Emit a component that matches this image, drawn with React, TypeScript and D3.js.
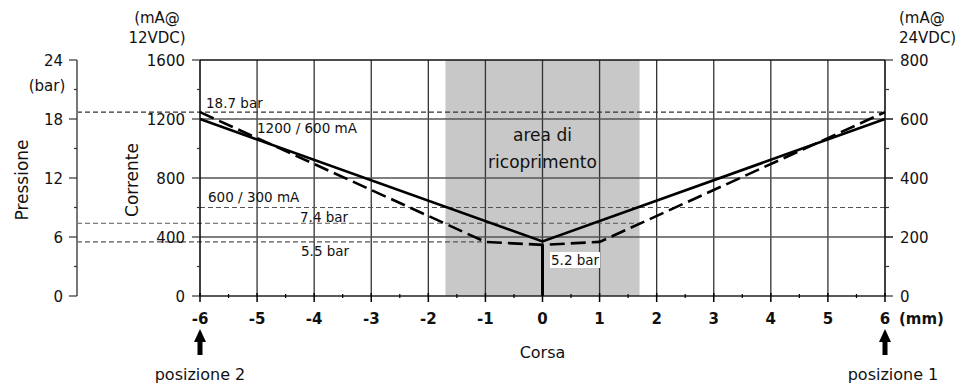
import React from "react";
import * as d3 from "d3";

// ---- data ----
const strokeTicks = [-6, -5, -4, -3, -2, -1, 0, 1, 2, 3, 4, 5, 6];
const currentX = [-6, 0, 6];
const currentMA = [1200, 370, 1200];
const pressureX = [-6, -1, 0, 1, 6];
const pressureBar = [18.7, 5.5, 5.2, 5.5, 18.7];
const pressureTicks = [0, 6, 12, 18, 24];
const current12Ticks = [0, 400, 800, 1200, 1600];
const current24Ticks = [0, 200, 400, 600, 800];
const overlapArea = [-1.7, 1.7];
const refMaxBar = 18.7;
const refMidBar = 7.4;
const refMinBar = 5.5;
const refCurrentMA = 600;
const minBar = 5.2;

const W = 961, H = 385;
const FONT = "'DejaVu Sans', Verdana, sans-serif";

export default function App() {
  const x = d3.scaleLinear().domain([-6, 6]).range([200, 885]);
  const yI = d3.scaleLinear().domain([0, 1600]).range([296, 60]);
  const yP = d3.scaleLinear().domain([0, 24]).range([296, 60]);
  const yR = d3.scaleLinear().domain([0, 800]).range([296, 60]);

  const line = d3.line<[number, number]>().x(d => d[0]).y(d => d[1]);
  const curPath = line(currentX.map((v, i) => [x(v), yI(currentMA[i])]))!;
  const presPath = line(pressureX.map((v, i) => [x(v), yP(pressureBar[i])]))!;

  // where pressure line crosses 7.4 bar on the right side
  const xMid = pressureX[3] + (refMidBar - pressureBar[3]) / (pressureBar[4] - pressureBar[3]) * (pressureX[4] - pressureX[3]);

  const halfTicks = d3.range(-5.5, 6, 1);
  const presMinor = d3.range(3, 24, 6);
  const curMinor = d3.range(200, 1600, 400);
  const rMinor = d3.range(100, 800, 200);

  const arrow = (cx: number, key: string) => (
    <g key={key}>
      <path d={`M${cx - 6},${342} L${cx},${329} L${cx + 6},${342} Z`} fill="#000" />
      <rect x={cx - 2.5} y={340} width={5} height={15} fill="#000" />
    </g>
  );

  return (
    <svg width={W} height={H} style={{ position: "absolute", left: 0, top: 0, background: "#fff" }} fontFamily={FONT}>
      {/* overlap area */}
      <rect x={x(overlapArea[0])} y={yI(1600)} width={x(overlapArea[1]) - x(overlapArea[0])} height={yI(0) - yI(1600)} fill="#c8c8c8" />
      <text x={x(0)} y={141} textAnchor="middle" fontSize={17} fill="#111">area di</text>
      <text x={x(0)} y={168} textAnchor="middle" fontSize={17} fill="#111">ricoprimento</text>

      {/* vertical grid */}
      {strokeTicks.slice(1, -1).map(t => (
        <line key={"vg" + t} x1={x(t)} x2={x(t)} y1={yI(1600)} y2={yI(0)} stroke="#333" strokeWidth={1.3} />
      ))}
      {/* horizontal grid */}
      {current12Ticks.slice(1, -1).map(t => (
        <line key={"hg" + t} x1={x(-6)} x2={x(6) + 8} y1={yI(t)} y2={yI(t)} stroke="#555" strokeWidth={1.5} />
      ))}
      <line x1={x(-6)} x2={x(6)} y1={yI(1600)} y2={yI(1600)} stroke="#111" strokeWidth={1.5} />

      {/* reference dashed lines */}
      <line x1={77} x2={x(6)} y1={yP(refMaxBar)} y2={yP(refMaxBar)} stroke="#333" strokeWidth={1.2} strokeDasharray="5,3" />
      <line x1={x(-6)} x2={x(6)} y1={yI(refCurrentMA)} y2={yI(refCurrentMA)} stroke="#555" strokeWidth={1.2} strokeDasharray="5,3" />
      <line x1={77} x2={x(xMid)} y1={yP(refMidBar)} y2={yP(refMidBar)} stroke="#555" strokeWidth={1.2} strokeDasharray="5,3" />
      <line x1={77} x2={x(pressureX[1])} y1={yP(refMinBar)} y2={yP(refMinBar)} stroke="#555" strokeWidth={1.2} strokeDasharray="5,3" />

      {/* annotations */}
      <text x={206} y={108} fontSize={13.5} fill="#111">18.7 bar</text>
      <text x={257} y={133} fontSize={13.5} fill="#111">1200 / 600 mA</text>
      <text x={208} y={202} fontSize={13.5} fill="#111">600 / 300 mA</text>
      <text x={300} y={222} fontSize={13.5} fill="#111">7.4 bar</text>
      <text x={301} y={256} fontSize={13.5} fill="#111">5.5 bar</text>

      {/* series */}
      <path d={curPath} fill="none" stroke="#000" strokeWidth={2.6} />
      <path d={presPath} fill="none" stroke="#000" strokeWidth={2.6} strokeDasharray="15,6" />
      <line x1={x(0)} x2={x(0)} y1={yP(minBar)} y2={yI(0)} stroke="#000" strokeWidth={3} />
      <rect x={550} y={252} width={50} height={16} fill="#fff" />
      <text x={551} y={265} fontSize={13.5} fill="#111">5.2 bar</text>

      {/* pressure axis */}
      <line x1={77} x2={77} y1={yP(24)} y2={yP(0)} stroke="#777" strokeWidth={2} />
      {pressureTicks.map(t => (
        <g key={"pt" + t}>
          <line x1={69} x2={77} y1={yP(t)} y2={yP(t)} stroke="#333" strokeWidth={1.2} />
          <text x={63} y={yP(t) + 5.5} textAnchor="end" fontSize={15} fill="#111">{t}</text>
        </g>
      ))}
      {presMinor.map(t => (
        <line key={"pm" + t} x1={74} x2={77} y1={yP(t)} y2={yP(t)} stroke="#333" strokeWidth={1.2} />
      ))}
      <text x={47} y={91} textAnchor="middle" fontSize={15} fill="#111">(bar)</text>
      <text transform={`translate(28,180) rotate(-90)`} textAnchor="middle" fontSize={17} fill="#111">Pressione</text>

      {/* current 12V axis */}
      <line x1={x(-6)} x2={x(-6)} y1={yI(1600)} y2={yI(0)} stroke="#000" strokeWidth={1.5} />
      {current12Ticks.map(t => (
        <g key={"ct" + t}>
          <line x1={x(-6) - 8} x2={x(-6)} y1={yI(t)} y2={yI(t)} stroke="#333" strokeWidth={1.2} />
          <text x={185} y={yI(t) + 5.5} textAnchor="end" fontSize={15} fill="#111">{t}</text>
        </g>
      ))}
      {curMinor.map(t => (
        <line key={"cm" + t} x1={x(-6) - 3} x2={x(-6)} y1={yI(t)} y2={yI(t)} stroke="#333" strokeWidth={1.2} />
      ))}
      <text x={157} y={23} textAnchor="middle" fontSize={15} fill="#111">(mA@</text>
      <text x={157} y={43} textAnchor="middle" fontSize={15} fill="#111">12VDC)</text>
      <text transform={`translate(138,180) rotate(-90)`} textAnchor="middle" fontSize={17} fill="#111">Corrente</text>

      {/* current 24V axis */}
      <line x1={x(6)} x2={x(6)} y1={yR(800)} y2={yR(0)} stroke="#000" strokeWidth={1.5} />
      {current24Ticks.map(t => (
        <g key={"rt" + t}>
          <line x1={x(6)} x2={x(6) + 8} y1={yR(t)} y2={yR(t)} stroke="#333" strokeWidth={1.2} />
          <text x={900} y={yR(t) + 5.5} fontSize={15} fill="#111">{t}</text>
        </g>
      ))}
      {rMinor.map(t => (
        <line key={"rm" + t} x1={x(6)} x2={x(6) + 4} y1={yR(t)} y2={yR(t)} stroke="#333" strokeWidth={1.2} />
      ))}
      <text x={899} y={23} fontSize={15} fill="#111">(mA@</text>
      <text x={899} y={43} fontSize={15} fill="#111">24VDC)</text>

      {/* x axis */}
      <line x1={x(-6)} x2={x(6)} y1={yI(0)} y2={yI(0)} stroke="#222" strokeWidth={1.5} />
      {strokeTicks.map(t => (
        <g key={"xt" + t}>
          <line x1={x(t)} x2={x(t)} y1={yI(0) - 3} y2={yI(0) + 6} stroke="#000" strokeWidth={1.5} />
          <text x={x(t)} y={324} textAnchor="middle" fontSize={15} fontWeight="bold" fill="#111">{t}</text>
        </g>
      ))}
      {halfTicks.map(t => (
        <line key={"xm" + t} x1={x(t)} x2={x(t)} y1={yI(0) - 2} y2={yI(0) + 2} stroke="#000" strokeWidth={1.2} />
      ))}
      <text x={899} y={324} fontSize={15} fontWeight="bold" fill="#111">(mm)</text>
      <text x={x(0)} y={358} textAnchor="middle" fontSize={16} fill="#111">Corsa</text>

      {arrow(x(-6), "a1")}
      {arrow(x(6), "a2")}
      <text x={x(-6)} y={380} textAnchor="middle" fontSize={16} fill="#111">posizione 2</text>
      <text x={893} y={380} textAnchor="middle" fontSize={16} fill="#111">posizione 1</text>
    </svg>
  );
}
